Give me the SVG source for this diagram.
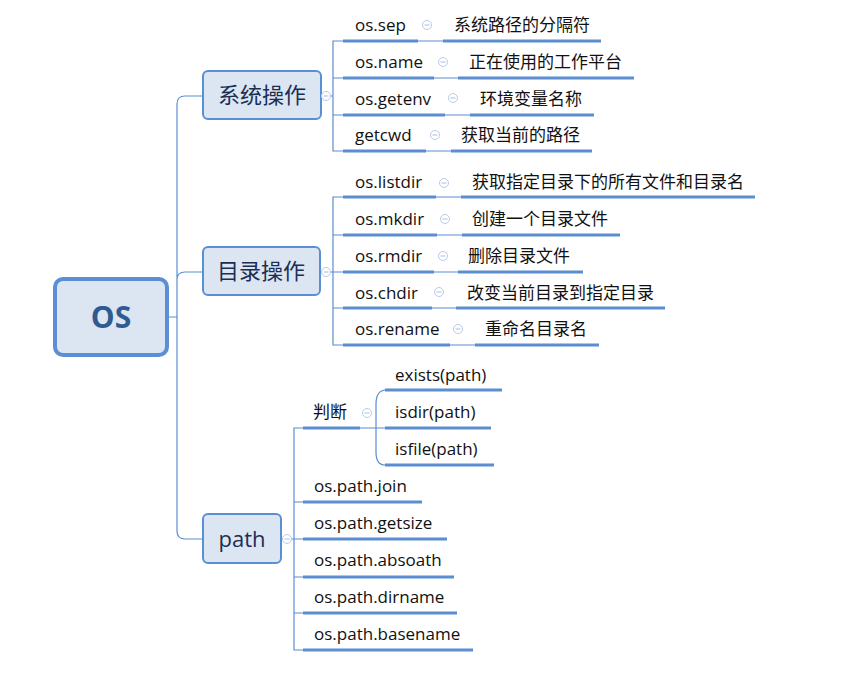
<svg xmlns="http://www.w3.org/2000/svg" width="857" height="678" viewBox="0 0 857 678">
<style>
.t{font-family:"Open Sans","Noto Sans CJK SC",sans-serif;font-size:17px;fill:#111}
.n{font-family:"Open Sans","Noto Sans CJK SC",sans-serif;font-size:22px;fill:#1b2f55;text-anchor:middle}
.box{fill:#dce6f2;stroke:#5b8fd4;stroke-width:2}
.ln{fill:none;stroke:#5b8dd0;stroke-width:1.2}
.ul{stroke:#5b8dd0;stroke-width:3}
.c{fill:#fff;stroke:#b8cbeb;stroke-width:1}
.cm{stroke:#a9bfe4;stroke-width:1}
</style>
<defs>
<g id="col"><circle class="c" r="4.5"/><line class="cm" x1="-2.5" x2="2.5" y1="0" y2="0"/></g>
</defs>
<g id="connectors">
<path class="ln" d="M168,317 H177 M185,96 Q177,96 177,104 V531 Q177,539 185,539 H203 M177,280 Q177,272 185,272 H203 M185,96 H203"/>
<path class="ln" d="M321,96 H333 M343,41 H333 V151 H343 M333,78 H343 M333,115 H343"/>
<path class="ln" d="M418,41 H443 M434,78 H458 M445,115 H470 M426,151 H451"/>
<path class="ln" d="M320,272 H333 M343,197 H333 V345 H343 M333,235 H343 M333,272 H343 M333,308 H343"/>
<path class="ln" d="M436,197 H461 M437,235 H462 M434,272 H458 M432,308 H456 M450,345 H475"/>
<path class="ln" d="M281,539 H294 M303,428 H294 V650 H303 M294,502 H303 M294,539 H303 M294,577 H303 M294,613 H303"/>
<path class="ln" d="M360,428 H385 M385,390 Q376,391 376,404 V452 Q376,465 385,465"/>
</g>
<g id="root">
<rect x="55" y="279" width="112" height="76" rx="8" fill="#dce6f2" stroke="#5a8fd4" stroke-width="4"/>
<text x="111" y="328" font-family="Open Sans,sans-serif" font-weight="bold" font-size="30" fill="#2f5b93" text-anchor="middle">OS</text>
</g>
<g id="sys">
<rect class="box" x="203" y="71" width="118" height="48" rx="5"/>
<text class="n" x="262" y="103">系统操作</text>
<use href="#col" x="326" y="96"/>
</g>
<g id="dir">
<rect class="box" x="203" y="247" width="117" height="48" rx="5"/>
<text class="n" x="261" y="279">目录操作</text>
<use href="#col" x="326" y="272"/>
</g>
<g id="path">
<rect class="box" x="203" y="514" width="78" height="49" rx="5"/>
<text class="n" x="242" y="547">path</text>
<use href="#col" x="287" y="539"/>
</g>
<g id="sys-children">
<line class="ul" x1="343" x2="418" y1="41" y2="41"/><text class="t" x="355" y="31">os.sep</text><use href="#col" x="427" y="25"/>
<line class="ul" x1="443" x2="601" y1="41" y2="41"/><text class="t" x="454" y="31">系统路径的分隔符</text>
<line class="ul" x1="343" x2="434" y1="78" y2="78"/><text class="t" x="355" y="68">os.name</text><use href="#col" x="443" y="62"/>
<line class="ul" x1="458" x2="634" y1="78" y2="78"/><text class="t" x="469" y="68">正在使用的工作平台</text>
<line class="ul" x1="343" x2="445" y1="115" y2="115"/><text class="t" x="355" y="105">os.getenv</text><use href="#col" x="453" y="98"/>
<line class="ul" x1="470" x2="594" y1="115" y2="115"/><text class="t" x="480" y="105">环境变量名称</text>
<line class="ul" x1="343" x2="426" y1="151" y2="151"/><text class="t" x="355" y="141">getcwd</text><use href="#col" x="435" y="135"/>
<line class="ul" x1="451" x2="592" y1="151" y2="151"/><text class="t" x="461" y="141">获取当前的路径</text>
</g>
<g id="dir-children">
<line class="ul" x1="343" x2="436" y1="197" y2="197"/><text class="t" x="355" y="188">os.listdir</text><use href="#col" x="444" y="183"/>
<line class="ul" x1="461" x2="755" y1="197" y2="197"/><text class="t" x="472" y="188">获取指定目录下的所有文件和目录名</text>
<line class="ul" x1="343" x2="437" y1="235" y2="235"/><text class="t" x="355" y="225">os.mkdir</text><use href="#col" x="445" y="219"/>
<line class="ul" x1="462" x2="620" y1="235" y2="235"/><text class="t" x="472" y="225">创建一个目录文件</text>
<line class="ul" x1="343" x2="434" y1="272" y2="272"/><text class="t" x="355" y="262">os.rmdir</text><use href="#col" x="443" y="256"/>
<line class="ul" x1="458" x2="583" y1="272" y2="272"/><text class="t" x="468" y="262">删除目录文件</text>
<line class="ul" x1="343" x2="432" y1="308" y2="308"/><text class="t" x="355" y="299">os.chdir</text><use href="#col" x="439" y="292"/>
<line class="ul" x1="456" x2="665" y1="308" y2="308"/><text class="t" x="467" y="299">改变当前目录到指定目录</text>
<line class="ul" x1="343" x2="450" y1="345" y2="345"/><text class="t" x="355" y="335">os.rename</text><use href="#col" x="458" y="329"/>
<line class="ul" x1="475" x2="599" y1="345" y2="345"/><text class="t" x="485" y="335">重命名目录名</text>
</g>
<g id="path-children">
<line class="ul" x1="303" x2="360" y1="428" y2="428"/><text class="t" x="313" y="418">判断</text><use href="#col" x="367" y="413"/>
<line class="ul" x1="385" x2="502" y1="390" y2="390"/><text class="t" x="395" y="381">exists(path)</text>
<line class="ul" x1="385" x2="491" y1="428" y2="428"/><text class="t" x="395" y="418">isdir(path)</text>
<line class="ul" x1="385" x2="494" y1="465" y2="465"/><text class="t" x="395" y="455">isfile(path)</text>
<line class="ul" x1="303" x2="422" y1="502" y2="502"/><text class="t" x="314" y="492">os.path.join</text>
<line class="ul" x1="303" x2="447" y1="539" y2="539"/><text class="t" x="314" y="529">os.path.getsize</text>
<line class="ul" x1="303" x2="454" y1="577" y2="577"/><text class="t" x="314" y="566">os.path.absoath</text>
<line class="ul" x1="303" x2="457" y1="613" y2="613"/><text class="t" x="314" y="603">os.path.dirname</text>
<line class="ul" x1="303" x2="473" y1="650" y2="650"/><text class="t" x="314" y="640">os.path.basename</text>
</g>
</svg>
